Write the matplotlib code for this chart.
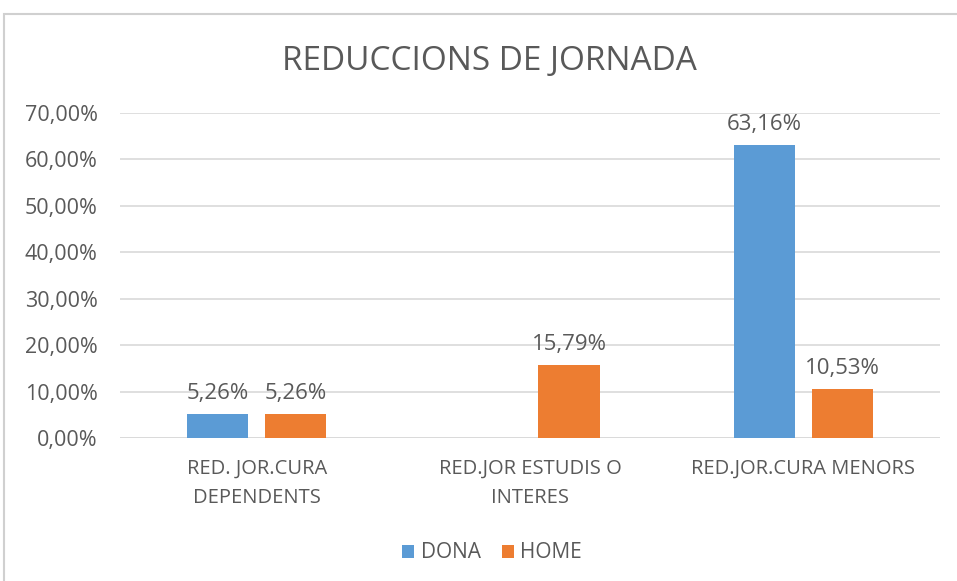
import matplotlib
matplotlib.use("Agg")
import matplotlib.pyplot as plt
from matplotlib.patches import Rectangle
import numpy as np

categories = ["RED. JOR.CURA\nDEPENDENTS", "RED.JOR ESTUDIS O\nINTERES", "RED.JOR.CURA MENORS"]
dona = [5.26, 0.0, 63.16]
home = [5.26, 15.79, 10.53]
series_names = ["DONA", "HOME"]
yticks = [0, 10, 20, 30, 40, 50, 60, 70]

plt.rcParams['font.family'] = ['Open Sans', 'DejaVu Sans']
W, H = 957, 581
fig = plt.figure(figsize=(W/100, H/100), dpi=100)
ax = fig.add_axes([120/W, 1-438/H, (940-120)/W, (438-113)/H])

blue = "#5B9BD5"
orange = "#ED7D31"
txt = "#595959"
x = np.arange(len(categories))
bw = 0.224
off = 0.143
b1 = ax.bar(x - off, dona, bw, color=blue, label=series_names[0], zorder=3)
b2 = ax.bar(x + off, home, bw, color=orange, label=series_names[1], zorder=3)

def fmt(v):
    return f"{v:.2f}".replace(".", ",") + "%"

for bars, vals in ((b1, dona), (b2, home)):
    for r, v in zip(bars, vals):
        if v > 0:
            ax.annotate(fmt(v), (r.get_x() + r.get_width()/2, v), xytext=(0, 7),
                        textcoords="offset points", ha="center", va="bottom",
                        fontsize=16, color=txt)

ax.set_xlim(-0.5, 2.5)
ax.set_ylim(0, 70)
ax.set_yticks(yticks)
ax.set_yticklabels([f"{t},00%" for t in yticks], fontsize=15.5, color=txt)
ax.set_xticks(x)
ax.set_xticklabels(categories, fontsize=14.5, color=txt, linespacing=1.6)
ax.tick_params(axis='both', length=0)
ax.tick_params(axis='y', pad=16)
ax.tick_params(axis='x', pad=15)
ax.grid(axis='y', color="#D9D9D9", linewidth=1.2, zorder=0)
for s in ax.spines.values():
    s.set_visible(False)
ax.axhline(0, color="#D9D9D9", linewidth=1.2, zorder=1)

fig.text(489/W, 1-61/H, "REDUCCIONS DE JORNADA", ha="center", va="center",
         fontsize=24, color=txt)

fig.legend(handles=[b1, b2], labels=series_names, loc="center", bbox_to_anchor=(492/W, 1-553/H),
           ncol=2, frameon=False, handlelength=0.6, handleheight=0.6,
           handletextpad=0.3, columnspacing=1.0, labelcolor=txt,
           prop={'size': 15})

fig.patches.append(Rectangle((4/W, -0.1), 1.2, 1 - 14/H + 0.1, transform=fig.transFigure,
                             fill=False, edgecolor="#D0D0D0", linewidth=1.5))

fig.savefig("out.png", dpi=100)
